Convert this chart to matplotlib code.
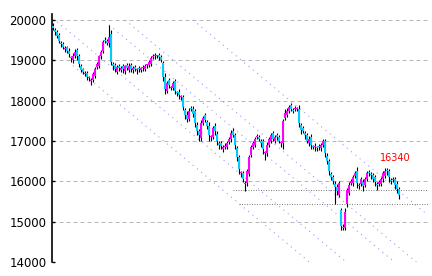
import matplotlib
matplotlib.use("Agg")
import matplotlib.pyplot as plt

# daily closes, one per trading day
closes = [
    19800, 19700, 19600, 19480, 19400, 19320, 19300, 19230, 19150, 19060,
    19100, 19220, 19100, 18900, 18750, 18720, 18680, 18600, 18560, 18520,
    18650, 18780, 18900, 19100, 19200, 19450, 19480, 19420, 19580, 18950,
    18850, 18780, 18830, 18800, 18820, 18780, 18850, 18800, 18850, 18780,
    18800, 18790, 18760, 18780, 18800, 18830, 18850, 18880, 18950, 19050,
    19100, 19130, 19100, 19080, 19000, 18600, 18300, 18450, 18400, 18320,
    18440, 18250, 18180, 18130, 18080, 17850, 17650, 17550, 17750, 17800,
    17680, 17450, 17250, 17150, 17450, 17580, 17520, 17380, 17150, 17100,
    17320, 17250, 17000, 16900, 16870, 16850, 16880, 16950, 17050, 17200,
    17150, 16900, 16600, 16300, 16200, 16050, 15950, 16250, 16600, 16850,
    16950, 17050, 17100, 17050, 16950, 16800, 16700, 16900, 17050, 17150,
    17050, 17100, 17100, 17000, 16950, 17500, 17700, 17750, 17850, 17800,
    17750, 17800, 17800, 17450, 17280, 17250, 17150, 17000, 17050, 16900,
    16850, 16880, 16820, 16850, 16900, 17000, 16700, 16500, 16250, 16100,
    16000, 15850, 15750, 15950, 14900, 14850, 15250, 15780, 15900, 16000,
    16100, 16200, 15950, 15900, 16050, 15880, 16050, 16200, 16200, 16150,
    16050, 15980, 15900, 15980, 16050, 16200, 16250, 16250, 16100, 16000,
    16050, 15900, 15800, 15650,
]
first_open = 19850

# opening gap against the previous close
open_gaps = [
    0, -40, 0, 30, -60, 0, -50, 20, 0, -80,
    -60, 0, 40, 0, -50, 30, -60, 0, -40, -60,
    0, -40, 60, -50, 0, 40, 60, 0, 0, 80,
    -40, 40, -60, 30, -40, 40, -50, 40, -40, 30,
    -30, 40, -40, 30, -30, 0, -40, 30, 0, -40,
    40, 0, -30, 30, 0, -60, 0, -60, 60, -80,
    0, 50, -60, 40, -50, 0, -80, 0, 0, 60,
    0, 60, -60, 0, -80, 0, 60, -60, 0, -60,
    0, 60, -80, -50, 40, -60, 0, -40, 30, 0,
    60, 0, -80, 0, -100, 0, -120, 0, -60, 60,
    0, -40, 50, 0, -60, 50, -100, 0, 0, -40,
    50, -40, 40, 0, -50, 0, 80, -60, 0, 40,
    -40, 40, 0, 0, -60, 40, -60, 0, -40, 60,
    -40, 0, -50, 40, -30, 0, 0, -60, 0, -80,
    0, -60, 0, -80, -650, -30, 0, 200, -60, 50,
    -50, 40, 60, -60, 40, -60, 40, 0, 40, -40,
    0, 50, -40, 40, -50, 0, -60, 40, 0, -60,
    40, 0, 40, 0,
]

upper_wick = [
    70, 50, 60, 40, 50, 60, 50, 40, 70, 50,
    90, 60, 50, 60, 50, 40, 60, 50, 50, 40,
    50, 60, 50, 40, 60, 50, 80, 50, 300, 90,
    60, 50, 60, 40, 50, 60, 40, 50, 90, 50,
    50, 40, 50, 60, 40, 50, 50, 40, 50, 60,
    50, 60, 40, 50, 60, 50, 90, 50, 60, 50,
    60, 50, 40, 60, 50, 60, 50, 90, 60, 50,
    60, 50, 90, 60, 80, 50, 60, 50, 80, 60,
    50, 60, 90, 50, 60, 50, 60, 50, 60, 80,
    60, 50, 60, 50, 60, 50, 60, 50, 60, 50,
    60, 50, 80, 60, 50, 60, 50, 80, 60, 50,
    60, 50, 60, 50, 60, 50, 90, 60, 50, 60,
    50, 60, 50, 90, 60, 50, 60, 50, 80, 60,
    50, 60, 50, 60, 50, 60, 50, 60, 50, 60,
    50, 60, 80, 60, 50, 60, 90, 60, 80, 60,
    50, 60, 90, 50, 60, 80, 50, 60, 50, 60,
    50, 60, 50, 60, 50, 60, 90, 50, 60, 50,
    60, 50, 60, 50,
]
lower_wick = [
    50, 60, 50, 60, 80, 50, 60, 50, 60, 90,
    60, 50, 90, 60, 50, 60, 50, 80, 60, 110,
    60, 50, 60, 50, 60, 50, 60, 50, 90, 60,
    90, 60, 50, 60, 50, 90, 60, 50, 60, 80,
    60, 50, 90, 60, 50, 60, 50, 60, 50, 60,
    50, 60, 50, 60, 50, 110, 140, 60, 90, 60,
    50, 90, 60, 80, 60, 90, 110, 90, 60, 50,
    90, 90, 110, 140, 60, 50, 60, 90, 140, 90,
    60, 90, 110, 90, 60, 90, 60, 50, 60, 80,
    60, 90, 90, 110, 90, 60, 170, 60, 50, 60,
    50, 60, 50, 60, 90, 110, 160, 60, 50, 60,
    50, 60, 80, 60, 90, 140, 60, 50, 60, 50,
    60, 50, 60, 90, 110, 60, 90, 60, 90, 110,
    60, 90, 60, 80, 60, 50, 90, 60, 90, 60,
    60, 400, 90, 60, 110, 60, 60, 90, 60, 50,
    60, 50, 110, 90, 60, 110, 60, 50, 60, 90,
    60, 90, 110, 60, 50, 60, 60, 90, 110, 60,
    60, 90, 80, 90,
]

# trend channel lines: (start day, start price), common slope per day
channel_starts = [(2, 19960), (10, 18870), (28, 19880), (36, 20000), (70, 20000)]
channel_slope = -41.2

# support lines: (start day, price)
support_lines = [(90, 15780), (93, 15450)]

label_day, label_price, label_text = 163.5, 16450, "16340"
y_ticks = [14000, 15000, 16000, 17000, 18000, 19000, 20000]

n_days = 188
fig = plt.figure(figsize=(4.32, 2.76), dpi=100)
ax = fig.add_axes([52 / 432, 14 / 276, 376 / 432, 248 / 276])
ax.set_xlim(-0.5, n_days - 0.5)
ax.set_ylim(14000, 20150)

for t in y_ticks:
    ax.axhline(t, color="#b8b8b8", lw=0.72, ls=(0, (4, 3)), zorder=0)

for start_day, start_price in channel_starts:
    xs = [start_day, n_days]
    ys = [start_price, start_price + channel_slope * (n_days - start_day)]
    ax.plot(xs, ys, color="#9a9aff", lw=0.8, ls=(0, (1, 4)), zorder=1)

for start_day, price in support_lines:
    ax.plot([start_day, n_days], [price, price], color="#808080", lw=0.72,
            ls=(0, (1, 1.5)), zorder=1)

prev = first_open
for i, c in enumerate(closes):
    o = prev + open_gaps[i]
    hi = max(o, c) + upper_wick[i]
    lo = min(o, c) - lower_wick[i]
    color = "#ff00ff" if c >= o else "#00ccff"
    ax.vlines(i + 0.2, lo, hi, color="black", lw=0.8, zorder=2)
    h = max(abs(c - o), 25)
    ax.bar(i, h, bottom=min(o, c), width=1.0, color=color, lw=0, zorder=3)
    prev = c

ax.text(label_day, label_price, label_text, color="red", fontsize=7,
        ha="left", va="bottom")

for s in ["top", "right", "bottom"]:
    ax.spines[s].set_visible(False)
ax.spines["left"].set_linewidth(1.2)
ax.set_xticks([])
ax.set_yticks(y_ticks)
ax.set_yticklabels([str(t) for t in y_ticks])
ax.tick_params(axis="y", direction="in", length=2.5, width=1, pad=4,
               labelsize=8.5)

fig.savefig("out.png", dpi=100)
